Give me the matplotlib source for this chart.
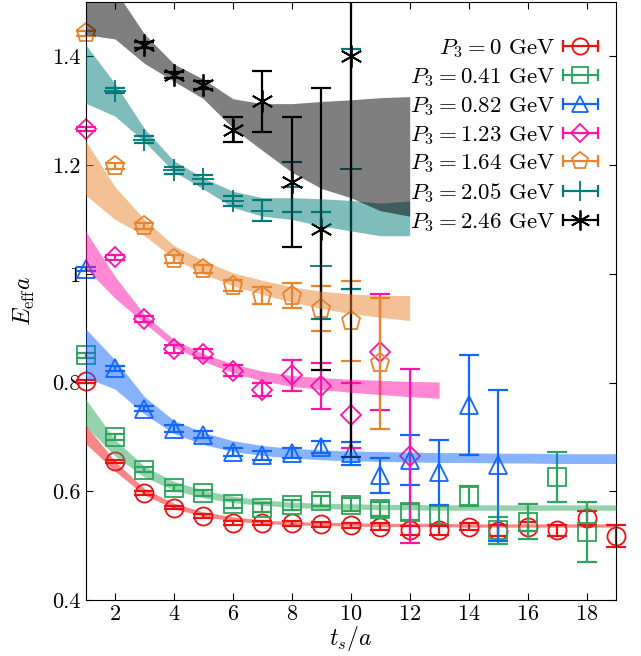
import matplotlib
matplotlib.use("Agg")
import matplotlib.pyplot as plt
import numpy as np
from matplotlib.lines import Line2D
from matplotlib.legend_handler import HandlerBase

plt.rcParams['font.family'] = 'serif'
plt.rcParams['font.serif'] = ['cmr10']
plt.rcParams['mathtext.fontset'] = 'cm'
plt.rcParams['axes.formatter.use_mathtext'] = True

# momenta in the legend
p3_labels = ['0', '0.41', '0.82', '1.23', '1.64', '2.05', '2.46']
colors = ['#ee1111', '#2ea55c', '#1166ff', '#ff11aa', '#e8842c', '#007a7a', '#000000']
markers = ['o', 's', '^', 'D', 'p', '+', (6, 2, 0)]
msizes = [13, 13, 13, 10, 14, 16, 16]

# effective energy data points (t_s/a, E_eff a, error)
ts0 = list(range(1, 20))
E0 = [0.802, 0.655, 0.597, 0.570, 0.555, 0.542, 0.541, 0.541, 0.539, 0.537,
      0.535, 0.528, 0.528, 0.535, 0.527, 0.535, 0.528, 0.550, 0.518]
err0 = [0.003, 0.003, 0.003, 0.003, 0.004, 0.004, 0.004, 0.005, 0.005, 0.005,
        0.006, 0.008, 0.008, 0.007, 0.010, 0.008, 0.010, 0.013, 0.020]

ts1 = list(range(1, 19))
E1 = [0.850, 0.700, 0.640, 0.606, 0.597, 0.577, 0.570, 0.574, 0.582, 0.575,
      0.568, 0.562, 0.556, 0.591, 0.528, 0.544, 0.626, 0.525]
err1 = [0.004, 0.005, 0.005, 0.006, 0.006, 0.007, 0.008, 0.009, 0.010, 0.012,
        0.013, 0.015, 0.017, 0.019, 0.025, 0.032, 0.046, 0.056]

ts2 = list(range(1, 16))
E2 = [1.009, 0.826, 0.752, 0.715, 0.704, 0.672, 0.666, 0.670, 0.681, 0.670,
      0.629, 0.657, 0.635, 0.758, 0.648]
err2 = [0.004, 0.005, 0.005, 0.006, 0.006, 0.007, 0.008, 0.009, 0.011, 0.021,
        0.033, 0.046, 0.060, 0.092, 0.139]

ts3 = list(range(1, 13))
E3 = [1.266, 1.030, 0.917, 0.862, 0.853, 0.822, 0.787, 0.813, 0.793, 0.740,
      0.856, 0.665]
err3 = [0.004, 0.005, 0.006, 0.007, 0.008, 0.010, 0.012, 0.028, 0.042, 0.060,
        0.107, 0.160]

ts4 = list(range(1, 12))
E4 = [1.442, 1.198, 1.088, 1.027, 1.009, 0.978, 0.960, 0.960, 0.936, 0.913, 0.835]
err4 = [0.004, 0.005, 0.006, 0.007, 0.008, 0.010, 0.015, 0.023, 0.042, 0.073, 0.121]

ts5 = list(range(2, 11))
E5 = [1.337, 1.247, 1.190, 1.174, 1.134, 1.116, 1.160, 1.015, 1.193]
err5 = [0.004, 0.006, 0.007, 0.008, 0.010, 0.019, 0.046, 0.099, 0.221]

ts6 = list(range(3, 11))
E6 = [1.421, 1.366, 1.347, 1.265, 1.317, 1.169, 1.082, 1.400]
err6 = [0.005, 0.006, 0.007, 0.023, 0.056, 0.120, 0.259, 0.737]

# fit bands (centre and half width)
bt0 = list(range(1, 20))
bc0 = [0.705, 0.646, 0.599, 0.573, 0.558, 0.549, 0.544, 0.541, 0.540, 0.539,
       0.538, 0.538, 0.538, 0.537, 0.537, 0.537, 0.537, 0.537, 0.537]
bw0 = [0.017, 0.009, 0.006, 0.005, 0.004, 0.004, 0.003, 0.003, 0.003, 0.003,
       0.003, 0.003, 0.003, 0.003, 0.003, 0.003, 0.003, 0.003, 0.003]

bt1 = list(range(1, 20))
bc1 = [0.745, 0.680, 0.636, 0.610, 0.595, 0.585, 0.579, 0.575, 0.573, 0.572,
       0.571, 0.571, 0.570, 0.570, 0.570, 0.570, 0.570, 0.570, 0.570]
bw1 = [0.025, 0.015, 0.010, 0.008, 0.007, 0.006, 0.005, 0.005, 0.005, 0.005,
       0.005, 0.005, 0.005, 0.005, 0.005, 0.005, 0.005, 0.005, 0.005]

bt2 = list(range(1, 20))
bc2 = [0.854, 0.815, 0.758, 0.718, 0.697, 0.683, 0.675, 0.670, 0.667, 0.665,
       0.664, 0.663, 0.662, 0.662, 0.661, 0.661, 0.660, 0.660, 0.660]
bw2 = [0.045, 0.027, 0.016, 0.012, 0.011, 0.010, 0.009, 0.009, 0.009, 0.009,
       0.009, 0.009, 0.009, 0.009, 0.009, 0.009, 0.009, 0.009, 0.009]

bt3 = list(range(1, 14))
bc3 = [1.045, 0.975, 0.917, 0.872, 0.846, 0.826, 0.812, 0.803, 0.798, 0.794,
       0.791, 0.788, 0.786]
bw3 = [0.034, 0.020, 0.008, 0.007, 0.007, 0.008, 0.009, 0.010, 0.011, 0.012,
       0.013, 0.014, 0.015]

bt4 = list(range(1, 13))
bc4 = [1.195, 1.130, 1.085, 1.040, 1.012, 0.990, 0.975, 0.962, 0.952, 0.945,
       0.940, 0.937]
bw4 = [0.050, 0.030, 0.015, 0.012, 0.012, 0.012, 0.013, 0.014, 0.016, 0.018,
       0.020, 0.023]

bt5 = list(range(1, 13))
bc5 = [1.368, 1.320, 1.255, 1.198, 1.166, 1.137, 1.123, 1.120, 1.113, 1.107,
       1.100, 1.102]
bw5 = [0.054, 0.030, 0.012, 0.010, 0.010, 0.015, 0.017, 0.020, 0.025, 0.028,
       0.030, 0.032]

bt6 = list(range(1, 13))
bc6 = [1.520, 1.477, 1.414, 1.370, 1.340, 1.295, 1.270, 1.250, 1.237, 1.230,
       1.220, 1.216]
bw6 = [0.080, 0.045, 0.027, 0.016, 0.018, 0.027, 0.043, 0.063, 0.080, 0.090,
       0.104, 0.110]

ts_all = [ts0, ts1, ts2, ts3, ts4, ts5, ts6]
E_all = [E0, E1, E2, E3, E4, E5, E6]
err_all = [err0, err1, err2, err3, err4, err5, err6]
bt_all = [bt0, bt1, bt2, bt3, bt4, bt5, bt6]
bc_all = [bc0, bc1, bc2, bc3, bc4, bc5, bc6]
bw_all = [bw0, bw1, bw2, bw3, bw4, bw5, bw6]

fig = plt.figure(figsize=(6.41, 6.56), dpi=100)
ax = fig.add_axes([0.1334, 0.0854, 0.8276, 0.9116])

for i in range(7):
    # the long black bar at t_s/a = 10 runs off the top, keep it clipped
    clip = (i == 6)
    eb = ax.errorbar(ts_all[i], E_all[i], yerr=err_all[i], fmt='none',
                     ecolor=colors[i], elinewidth=1.6, capsize=7, capthick=1.6,
                     zorder=2)
    for art in eb.lines[1] + eb.lines[2]:
        art.set_clip_on(clip)
    ax.plot(ts_all[i], E_all[i], linestyle='none', marker=markers[i],
            ms=msizes[i], mfc='none', mec=colors[i], mew=1.3, zorder=2,
            clip_on=False)

for i in range(7):
    c = np.array(bc_all[i])
    w = np.array(bw_all[i])
    ax.fill_between(bt_all[i], c - w, c + w, color=colors[i], alpha=0.5,
                    lw=0, zorder=3)


# legend entries: horizontal bar with caps and marker
class BarHandler(HandlerBase):
    def __init__(self, color, marker, ms):
        super().__init__()
        self.color = color
        self.marker = marker
        self.ms = ms

    def create_artists(self, legend, orig_handle, xdescent, ydescent,
                       width, height, fontsize, trans):
        y = height / 2 - ydescent
        line = Line2D([-xdescent, width - xdescent], [y, y], color=self.color,
                      lw=1.6, transform=trans)
        caps = Line2D([-xdescent, width - xdescent], [y, y], ls='none',
                      marker='|', ms=8, mew=1.6, color=self.color,
                      transform=trans)
        mk = Line2D([width / 2 - xdescent], [y], ls='none', marker=self.marker,
                    ms=self.ms, mfc='none', mec=self.color, mew=1.3,
                    transform=trans)
        return [line, caps, mk]


proxies = [Line2D([], []) for i in range(7)]
labels = [r'$P_3 = %s$ GeV' % p for p in p3_labels]
hmap = {proxies[i]: BarHandler(colors[i], markers[i], msizes[i] * 0.9)
        for i in range(7)}
ax.legend(proxies, labels, handler_map=hmap, loc='upper right',
          bbox_to_anchor=(1.0, 0.972),
          frameon=False, markerfirst=False, fontsize=16.5, handlelength=1.5,
          labelspacing=0.26, handletextpad=0.35, borderaxespad=0.4)

ax.set_xlim(1, 19)
ax.set_ylim(0.4, 1.5)
ax.set_xticks([2, 4, 6, 8, 10, 12, 14, 16, 18])
ax.set_yticks([0.4, 0.6, 0.8, 1.0, 1.2, 1.4])
ax.set_yticklabels(['0.4', '0.6', '0.8', '1', '1.2', '1.4'])
ax.tick_params(direction='in', top=True, right=True, length=5, labelsize=16)
ax.set_xlabel(r'$t_s/a$', fontsize=17, labelpad=0)
ax.set_ylabel(r'$E_{\rm eff}a$', fontsize=17, labelpad=11)

fig.savefig('out.png', dpi=100)
